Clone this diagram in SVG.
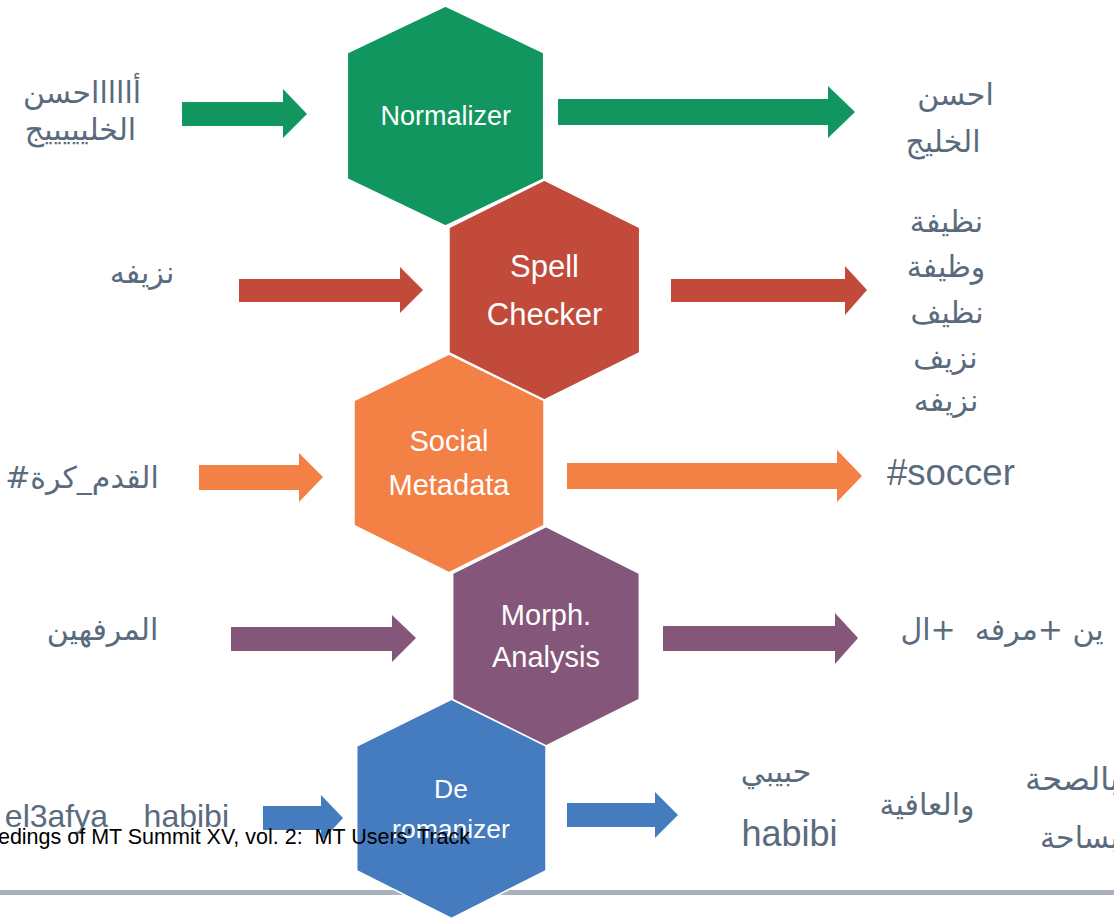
<svg xmlns="http://www.w3.org/2000/svg" width="1114" height="920" viewBox="0 0 1114 920">
  <style>
    .hex { stroke: #ffffff; stroke-width: 1.5; }
    .lbl { font-family: "Liberation Sans", Arial, sans-serif; fill: #ffffff; text-anchor: middle; }
    .ar { font-family: "DejaVu Sans", "Liberation Sans", sans-serif; font-size: 30px; fill: #596B7D; text-anchor: middle; }
    .lat { font-family: "Liberation Sans", Arial, sans-serif; fill: #596B7D; }
    .green { fill: #12965F; }
    .red { fill: #C14A3B; }
    .orange { fill: #F38045; }
    .purple { fill: #845679; }
    .blue { fill: #457BBF; }
  </style>

  <rect width="1114" height="920" fill="#ffffff"/>

  <!-- rule along the bottom of the page -->
  <rect x="0" y="890" width="1114" height="5" fill="#A9B2BC"/>

  <!-- block arrows feeding into and out of each stage -->
  <g id="connectors">
    <polygon class="green" points="182,102 283,102 283,89 307,114 283,138 283,126 182,126"/>
    <polygon class="green" points="558,99 828,99 828,86 855,112 828,138 828,125 558,125"/>
    <polygon class="red" points="239,279 400,279 400,267 423,290 400,313 400,302 239,302"/>
    <polygon class="red" points="671,279 845,279 845,266 867,290 845,315 845,302 671,302"/>
    <polygon class="orange" points="199,465 299,465 299,453 323,477 299,502 299,490 199,490"/>
    <polygon class="orange" points="567,463 837,463 837,450 862,476 837,502 837,489 567,489"/>
    <polygon class="purple" points="231,627 392,627 392,615 416,638 392,662 392,651 231,651"/>
    <polygon class="purple" points="663,626 835,626 835,613 858,638 835,664 835,651 663,651"/>
    <polygon class="blue" points="263,806 321,806 321,795 343,818 321,842 321,830 263,830"/>
    <polygon class="blue" points="567,803 655,803 655,792 678,815 655,838 655,827 567,827"/>
  </g>

  <!-- processing stages -->
  <g id="normalizer">
    <polygon class="hex green" points="445.5,6 543.7,52.7 543.7,179 445.5,226 347.3,179 347.3,52.7"/>
    <text class="lbl" x="445.7" y="125" font-size="27">Normalizer</text>
  </g>
  <g id="spell-checker">
    <polygon class="hex red" points="544.3,180 639.7,227.5 639.7,352.7 544.3,400 449,352.7 449,227.5"/>
    <text class="lbl" x="544.5" y="277" font-size="31">Spell</text>
    <text class="lbl" x="544.5" y="325" font-size="31">Checker</text>
  </g>
  <g id="social-metadata">
    <polygon class="hex orange" points="449,354 544,400.7 544,525.5 449,572.7 354,525.5 354,400.7"/>
    <text class="lbl" x="449" y="451" font-size="29">Social</text>
    <text class="lbl" x="449" y="495" font-size="29">Metadata</text>
  </g>
  <g id="morph-analysis">
    <polygon class="hex purple" points="546,526.7 639.3,573.3 639.3,699.3 546,746 452.7,699.3 452.7,573.3"/>
    <text class="lbl" x="546" y="625" font-size="29">Morph.</text>
    <text class="lbl" x="546" y="667" font-size="29">Analysis</text>
  </g>
  <g id="deromanizer">
    <polygon class="hex blue" points="451.5,699.3 546,746 546,870.7 451.5,918.3 356.7,870.7 356.7,746"/>
    <text class="lbl" x="451" y="798" font-size="26.5">De</text>
    <text class="lbl" x="451" y="838" font-size="26.5">romanizer</text>
  </g>

  <!-- example inputs -->
  <g id="inputs">
    <text class="ar" x="82" y="103">أاااااحسن</text>
    <text class="ar" x="80.5" y="140">الخليييييج</text>
    <text class="ar" x="142" y="283">نزيفه</text>
    <text class="ar" x="82" y="488" direction="rtl">القدم_كرة#</text>
    <text class="ar" x="102.5" y="640">المرفهين</text>
    <text class="lat" x="229" y="827" font-size="32" text-anchor="end" xml:space="preserve">el3afya    habibi</text>
  </g>

  <!-- example outputs -->
  <g id="outputs">
    <text class="ar" x="955.5" y="105">احسن</text>
    <text class="ar" x="943" y="152">الخليج</text>
    <text class="ar" x="946.5" y="232">نظيفة</text>
    <text class="ar" x="946" y="277">وظيفة</text>
    <text class="ar" x="947" y="323">نظيف</text>
    <text class="ar" x="945.5" y="368">نزيف</text>
    <text class="ar" x="946" y="411">نزيفه</text>
    <text class="lat" x="887" y="485" font-size="36.5">#soccer</text>
    <text class="ar" x="1002" y="640" direction="rtl" xml:space="preserve">ين +مرفه  +ال</text>
    <text class="ar" x="776" y="782">حبيبي</text>
    <text class="lat" x="789.5" y="846" font-size="36" text-anchor="middle">habibi</text>
    <text class="ar" x="927" y="815">والعافية</text>
    <text class="ar" x="1025" y="790" style="text-anchor:start;font-size:32px">بالصحة</text>
    <text class="ar" x="1040" y="848" style="text-anchor:start">بساحة</text>
  </g>

  <!-- running footer of the page -->
  <text x="470" y="844" font-family="Liberation Sans, Arial, sans-serif" font-size="21.5" fill="#000000" text-anchor="end" xml:space="preserve">edings of MT Summit XV, vol. 2:  MT Users' Track</text>
</svg>
